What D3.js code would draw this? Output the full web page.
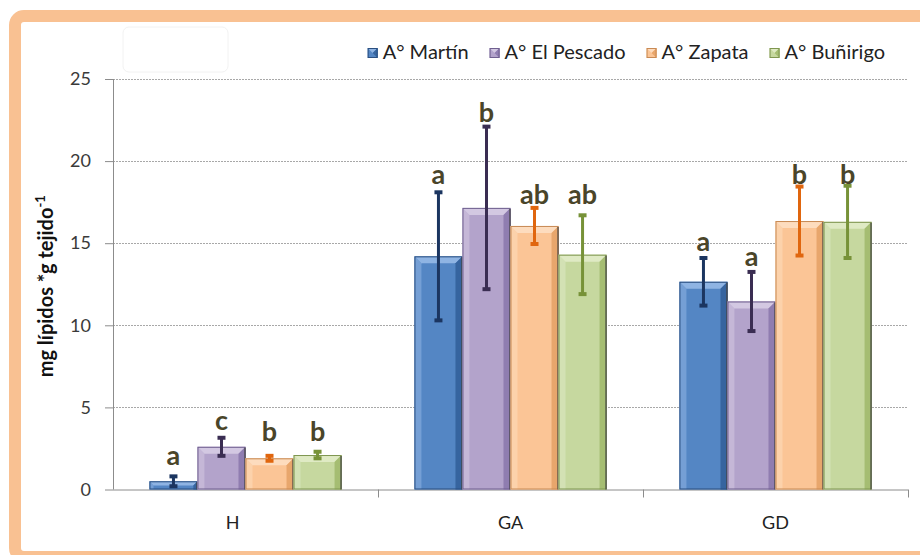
<!DOCTYPE html>
<html>
<head>
<meta charset="utf-8">
<script src="https://cdn.jsdelivr.net/npm/d3@7"></script>
<style>
  html, body { margin: 0; padding: 0; background: #ffffff; }
  svg { display: block; }
</style>
</head>
<body>
<svg id="chart" width="920" height="555"></svg>
<script>
// ---------------- DATA ----------------
const categories = ["H", "GA", "GD"];
const seriesNames = ["A° Martín", "A° El Pescado", "A° Zapata", "A° Buñirigo"];
const meanMartin   = [0.5, 14.2, 12.65];
const meanPescado  = [2.6, 17.15, 11.45];
const meanZapata   = [1.9, 16.05, 16.35];
const meanBunirigo = [2.1, 14.3, 16.3];
const errMartin    = [0.3, 3.9, 1.45];
const errPescado   = [0.55, 4.95, 1.8];
const errZapata    = [0.15, 1.1, 2.1];
const errBunirigo  = [0.2, 2.4, 2.2];
const lettersMartin   = ["a", "a", "a"];
const lettersPescado  = ["c", "b", "a"];
const lettersZapata   = ["b", "ab", "b"];
const lettersBunirigo = ["b", "ab", "b"];
// height (in axis units) of the letter baselines
const letterYMartin   = [1.5, 18.6, 14.5];
const letterYPescado  = [3.6, 22.4, 13.6];
const letterYZapata   = [2.95, 17.4, 18.6];
const letterYBunirigo = [2.95, 17.4, 18.6];
const yTicks = [0, 5, 10, 15, 20, 25];
const yLabel = "mg lípidos *g tejido";
const yLabelSup = "-1";

// ---------------- STYLE ----------------
const seriesStyle = [
  { base: "#5486c4", light: "#8fb4e3", dark: "#36649f", edge: "#2b4f80", err: "#1b3560" },
  { base: "#b3a3cb", light: "#d3c8e2", dark: "#8f7db0", edge: "#6f5f8f", err: "#3a2d52" },
  { base: "#fbc596", light: "#fddcbe", dark: "#e8a66c", edge: "#c88a55", err: "#e0660e" },
  { base: "#c6d89f", light: "#dfeac4", dark: "#a5bd72", edge: "#7f9650", err: "#779238" }
];

const means = [meanMartin, meanPescado, meanZapata, meanBunirigo];
const errs = [errMartin, errPescado, errZapata, errBunirigo];
const letters = [lettersMartin, lettersPescado, lettersZapata, lettersBunirigo];
const letterYs = [letterYMartin, letterYPescado, letterYZapata, letterYBunirigo];

const svg = d3.select("#chart");
const FONT = "Lato, 'Open Sans', sans-serif";

// Frame
svg.append("rect").attr("x", 0).attr("y", 0).attr("width", 920).attr("height", 555).attr("fill", "#fff");
svg.append("rect")
  .attr("x", 15).attr("y", 16).attr("width", 940).attr("height", 541)
  .attr("rx", 9).attr("ry", 9)
  .attr("fill", "#ffffff").attr("stroke", "#f9c192").attr("stroke-width", 12);

// faint artifact box at top-left
svg.append("rect").attr("x", 123).attr("y", 27).attr("width", 105).attr("height", 45)
  .attr("rx", 6).attr("fill", "none").attr("stroke", "#f2f2f2").attr("stroke-width", 1);

// Scales
const pLeft = 113, pRight = 908, pTop = 79, pBottom = 489.5;
const y = d3.scaleLinear().domain([0, 25]).range([pBottom, pTop]);
const x0 = d3.scaleBand().domain(categories).range([pLeft, pRight]).paddingInner(0.275).paddingOuter(0.1375);
const x1 = d3.scaleBand().domain(d3.range(seriesNames.length)).range([0, x0.bandwidth()]).padding(0);

// Gridlines
svg.append("g").selectAll("line").data(yTicks.filter(d => d > 0)).join("line")
  .attr("x1", pLeft).attr("x2", pRight)
  .attr("y1", d => Math.round(y(d)) + 0.5).attr("y2", d => Math.round(y(d)) + 0.5)
  .attr("stroke", "#a8a8a8").attr("stroke-width", 1).attr("stroke-dasharray", "2,1");

// Y axis
const yAxis = svg.append("g").attr("transform", `translate(${pLeft},0)`)
  .call(d3.axisLeft(y).tickValues(yTicks).tickSize(8).tickPadding(14));
yAxis.select(".domain").attr("stroke", "#8c8c8c").attr("d", `M0.5,${pTop}V${pBottom}`);
yAxis.selectAll(".tick line").attr("stroke", "#8c8c8c");
yAxis.selectAll(".tick text").attr("font-family", FONT).attr("font-size", 18).attr("fill", "#3a3a3a");

// X axis
const xAxis = svg.append("g").attr("transform", `translate(0,${pBottom})`)
  .call(d3.axisBottom(x0).tickSize(0).tickPadding(27));
xAxis.select(".domain").attr("stroke", "#8c8c8c").attr("d", `M${pLeft},0.5H${pRight}`);
xAxis.selectAll(".tick text").attr("font-family", FONT).attr("font-size", 18).attr("fill", "#222")
  .attr("dx", (d, i) => i === 0 ? -13 : 0);
const boundaries = categories.map(c => x0(c) + x0.bandwidth() + x0.step() * x0.paddingInner() / 2);
svg.append("g").selectAll("line").data(boundaries).join("line")
  .attr("x1", d => Math.round(d) + 0.5).attr("x2", d => Math.round(d) + 0.5)
  .attr("y1", pBottom).attr("y2", pBottom + 8).attr("stroke", "#8c8c8c");

// Y label
const yl = svg.append("text")
  .attr("transform", `translate(53,${(pTop + pBottom) / 2 + 2}) rotate(-90)`)
  .attr("text-anchor", "middle").attr("font-family", FONT).attr("font-weight", "bold")
  .attr("font-size", 20).attr("fill", "#111");
yl.append("tspan").text(yLabel);
yl.append("tspan").attr("dy", -8).attr("font-size", 13).text(yLabelSup);

// Bars
function bevelBar(g, bx, by, bw, bh, st) {
  const b = Math.min(7, bh / 2);
  g.append("rect").attr("x", bx).attr("y", by).attr("width", bw).attr("height", bh).attr("fill", st.base);
  g.append("path").attr("d", `M${bx},${by}L${bx + bw},${by}L${bx + bw - b},${by + b}L${bx + b},${by + b}Z`).attr("fill", st.light);
  g.append("path").attr("d", `M${bx},${by}L${bx + b},${by + b}L${bx + b},${by + bh}L${bx},${by + bh}Z`).attr("fill", st.light).attr("opacity", 0.55);
  g.append("path").attr("d", `M${bx + bw},${by}L${bx + bw - b},${by + b}L${bx + bw - b},${by + bh}L${bx + bw},${by + bh}Z`).attr("fill", st.dark);
  g.append("rect").attr("x", bx + 0.5).attr("y", by + 0.5).attr("width", bw - 1).attr("height", bh - 1)
    .attr("fill", "none").attr("stroke", st.edge).attr("stroke-width", 1);
  g.append("line").attr("x1", bx + bw - 0.5).attr("x2", bx + bw - 0.5).attr("y1", by + 1).attr("y2", by + bh)
    .attr("stroke", "#4a4a4a").attr("stroke-width", 1.5).attr("opacity", 0.8);
}

const barsG = svg.append("g");
categories.forEach((c, ci) => {
  means.forEach((arr, si) => {
    const bx = x0(c) + x1(si);
    const bw = x1.bandwidth();
    const by = y(arr[ci]);
    const bh = y(0) - by;
    const g = barsG.append("g");
    bevelBar(g, bx, by, bw, bh, seriesStyle[si]);
  });
});

// Error bars
const errG = svg.append("g");
categories.forEach((c, ci) => {
  means.forEach((arr, si) => {
    const cx = x0(c) + x1(si) + x1.bandwidth() / 2;
    const hi = y(arr[ci] + errs[si][ci]);
    const lo = y(Math.max(0, arr[ci] - errs[si][ci]));
    const col = seriesStyle[si].err;
    errG.append("line").attr("x1", cx).attr("x2", cx).attr("y1", hi).attr("y2", lo)
      .attr("stroke", col).attr("stroke-width", 3);
    [hi, lo].forEach(yy => {
      errG.append("line").attr("x1", cx - 4).attr("x2", cx + 4).attr("y1", yy).attr("y2", yy)
        .attr("stroke", col).attr("stroke-width", 4);
    });
  });
});

// Letters
const letG = svg.append("g");
categories.forEach((c, ci) => {
  letters.forEach((arr, si) => {
    const cx = x0(c) + x1(si) + x1.bandwidth() / 2;
    letG.append("text").attr("x", cx).attr("y", y(letterYs[si][ci]))
      .attr("text-anchor", "middle").attr("font-family", FONT).attr("font-weight", "bold")
      .attr("font-size", 27).attr("fill", "#4a4529").text(arr[ci]);
  });
});

// Legend (laid out sequentially, right end at 885)
const legG = svg.append("g");
const s = 10, ly = 48, textGap = 5, itemGap = 21, legendRight = 885;
const items = seriesNames.map((name, i) => {
  const g = legG.append("g");
  const t = g.append("text").attr("x", s + textGap).attr("y", 11)
    .attr("font-family", FONT).attr("font-size", 20).attr("fill", "#222").text(name);
  return { g, w: s + textGap + t.node().getComputedTextLength(), i };
});
const total = d3.sum(items, d => d.w) + itemGap * (items.length - 1);
let cur = legendRight - total;
items.forEach(({ g, w, i }) => {
  const st = seriesStyle[i];
  g.attr("transform", `translate(${cur},${ly})`);
  g.insert("rect", "text").attr("x", 0).attr("y", 0).attr("width", s).attr("height", s).attr("fill", st.base);
  g.insert("path", "text").attr("d", `M0,0L${s},0L${s / 2},${s / 2}Z`).attr("fill", st.light);
  g.insert("path", "text").attr("d", `M${s},0L${s},${s}L${s / 2},${s / 2}Z`).attr("fill", st.dark);
  g.insert("rect", "text").attr("x", 0.5).attr("y", 0.5).attr("width", s - 1).attr("height", s - 1)
    .attr("fill", "none").attr("stroke", st.edge);
  cur += w + itemGap;
});
</script>
</body>
</html>
